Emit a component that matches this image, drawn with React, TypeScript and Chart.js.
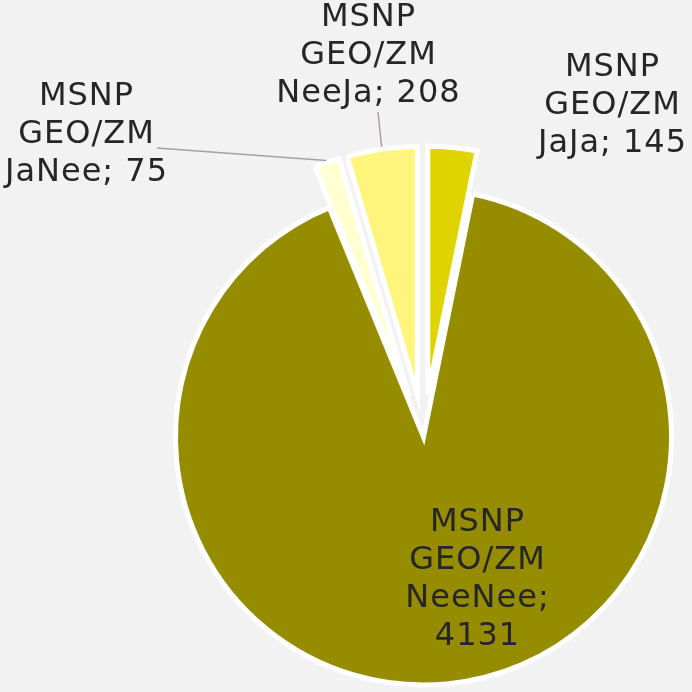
import React, { useEffect, useRef } from "react";
import { Chart, registerables } from "chart.js";

Chart.register(...registerables);

const categories = ["MSNP GEO/ZM JaJa", "MSNP GEO/ZM NeeNee", "MSNP GEO/ZM JaNee", "MSNP GEO/ZM NeeJa"];
const values = [145, 4131, 75, 208];
const labelLines = [
  ["MSNP", "GEO/ZM", "JaJa; 145"],
  ["MSNP", "GEO/ZM", "NeeNee;", "4131"],
  ["MSNP", "GEO/ZM", "JaNee; 75"],
  ["MSNP", "GEO/ZM", "NeeJa; 208"],
];
const colors = ["#dfd300", "#958c00", "#ffffd2", "#fff57d"];
const exploded = [true, false, true, true];

// label layout: centre x, first line y, leader line start (or null)
const labelLayout = [
  { x: 612, y: 68, leader: null as null | [number, number] },
  { x: 477, y: 523, leader: null as null | [number, number] },
  { x: 86, y: 97, leader: [157, 148] as [number, number] },
  { x: 368, y: 18, leader: [378, 112] as [number, number] },
];

const EXPLODE = 43;

const explodePlugin = {
  id: "explodeSlices",
  afterUpdate(chart: any) {
    const meta = chart.getDatasetMeta(0);
    meta.data.forEach((arc: any, i: number) => {
      if (!exploded[i]) return;
      const h = (arc.startAngle + arc.endAngle) / 2;
      arc.x += Math.cos(h) * EXPLODE;
      arc.y += Math.sin(h) * EXPLODE;
    });
  },
};

const labelPlugin = {
  id: "sliceLabels",
  afterDatasetsDraw(chart: any) {
    const ctx = chart.ctx;
    const meta = chart.getDatasetMeta(0);
    ctx.save();
    ctx.font = "32px 'DejaVu Sans'";
    (ctx as any).letterSpacing = "1px";
    ctx.fillStyle = "#262626";
    ctx.textAlign = "center";
    ctx.textBaseline = "middle";
    meta.data.forEach((arc: any, i: number) => {
      const lay = labelLayout[i];
      const lines = labelLines[i];
      lines.forEach((ln, k) => ctx.fillText(ln, lay.x + 0.5, lay.y + k * 37.8));
      if (lay.leader) {
        const h = (arc.startAngle + arc.endAngle) / 2;
        const r = arc.outerRadius + 2;
        const ex = arc.x + Math.cos(h) * r;
        const ey = arc.y + Math.sin(h) * r;
        ctx.strokeStyle = "#a6a0a6";
        ctx.lineWidth = 1.5;
        ctx.beginPath();
        ctx.moveTo(lay.leader[0], lay.leader[1]);
        ctx.lineTo(ex, ey);
        ctx.stroke();
      }
    });
    ctx.restore();
  },
};

export default function App() {
  const ref = useRef<HTMLCanvasElement>(null);
  useEffect(() => {
    if (!ref.current) return;
    const chart = new Chart(ref.current, {
      type: "pie",
      data: {
        labels: categories,
        datasets: [
          {
            data: values,
            backgroundColor: colors,
            borderColor: "#ffffff",
            borderWidth: 5,
            borderJoinStyle: "miter",
          } as any,
        ],
      },
      options: {
        animation: false,
        responsive: false,
        events: [],
        radius: 248,
        layout: { padding: { left: 155, top: 182, right: 0, bottom: 0 } },
        plugins: { legend: { display: false }, tooltip: { enabled: false } },
      } as any,
      plugins: [explodePlugin, labelPlugin],
    });
    return () => chart.destroy();
  }, []);
  return (
    <div style={{ position: "fixed", left: 0, top: 0, width: 692, height: 692, background: "#f2f2f2" }}>
      <canvas ref={ref} width={692} height={692} style={{ display: "block" }} />
    </div>
  );
}
